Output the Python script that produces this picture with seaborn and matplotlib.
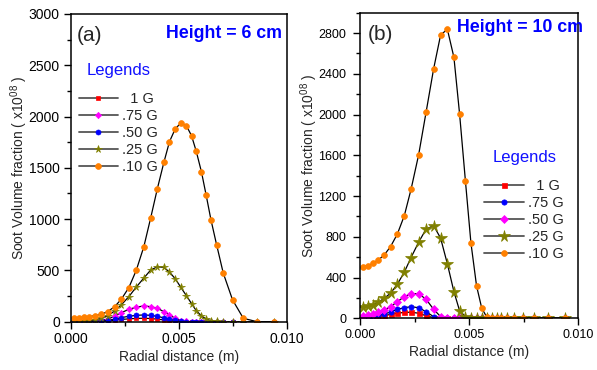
import matplotlib
matplotlib.use("Agg")
import matplotlib.pyplot as plt
from matplotlib.ticker import MultipleLocator, FormatStrFormatter
import seaborn as sns

# Radial grid of the flame simulation (m)
radial = [0.00012, 0.00035, 0.00060, 0.00083, 0.00110, 0.00139, 0.00170, 0.00202,
          0.00233, 0.00268, 0.00302, 0.00337, 0.00369, 0.00400, 0.00430, 0.00456,
          0.00483, 0.00508, 0.00534, 0.00558, 0.00580, 0.00604, 0.00626, 0.00648,
          0.00674, 0.00705, 0.00748, 0.00798, 0.00862, 0.00938]

# Soot volume fraction (x1e-8) at height = 6 cm
h6_labels = ["  1 G", ".75 G", ".50 G", ".25 G", ".10 G"]
h6_1g = [0, 0, 0, 1, 1, 3, 7, 14, 22, 28, 32, 34, 31, 25, 17, 10, 4, 1, 0, 0,
         0, 0, 0, 0, 0, 0, 0, 0, 0, 0]
h6_075g = [3, 3, 3, 4, 6, 12, 25, 55, 88, 121, 141, 154, 147, 131, 98, 66, 33, 10, 3, 1,
           0, 0, 0, 0, 0, 0, 0, 0, 0, 0]
h6_050g = [1, 1, 1, 2, 3, 6, 12, 25, 40, 53, 62, 66, 62, 52, 38, 24, 12, 4, 1, 0,
           0, 0, 0, 0, 0, 0, 0, 0, 0, 0]
h6_025g = [10, 10, 10, 12, 17, 33, 56, 105, 164, 245, 337, 425, 504, 536, 530, 484,
           418, 337, 255, 177, 108, 56, 26, 10, 3, 0, 0, 0, 0, 0]
h6_010g = [39, 39, 42, 49, 59, 72, 98, 147, 219, 333, 500, 729, 1012, 1298, 1553, 1755,
           1882, 1935, 1912, 1814, 1661, 1461, 1232, 994, 752, 474, 213, 33, 0, 0]

# Soot volume fraction (x1e-8) at height = 10 cm
h10_labels = ["  1 G", ".75 G", ".50 G", ".25 G", ".10 G"]
h10_1g = [5, 8, 12, 18, 27, 38, 50, 58, 60, 50, 25, 6, 0, 0, 0, 0, 0, 0, 0, 0,
          0, 0, 0, 0, 0, 0, 0, 0, 0, 0]
h10_075g = [10, 13, 20, 29, 42, 62, 88, 104, 114, 104, 65, 16, 2, 0, 0, 0, 0, 0, 0, 0,
            0, 0, 0, 0, 0, 0, 0, 0, 0, 0]
h10_050g = [26, 32, 42, 59, 82, 114, 163, 212, 242, 242, 187, 88, 16, 1, 0, 0, 0, 0, 0, 0,
            0, 0, 0, 0, 0, 0, 0, 0, 0, 0]
h10_025g = [114, 121, 134, 157, 197, 246, 334, 452, 596, 747, 875, 910, 786, 534, 262,
            75, 16, 3, 0, 0, 0, 0, 0, 0, 0, 0, 0, 0, 0, 0]
h10_010g = [507, 517, 541, 573, 622, 704, 826, 1006, 1265, 1605, 2021, 2451, 2782, 2837,
            2562, 2008, 1345, 743, 318, 98, 16, 0, 0, 0, 0, 0, 0, 0, 0, 0]

sns.set_style("ticks")
plt.rcParams["font.family"] = ["Liberation Sans", "DejaVu Sans"]
plt.rcParams["mathtext.fontset"] = "custom"
plt.rcParams["mathtext.rm"] = "Liberation Sans"
plt.rcParams["mathtext.it"] = "Liberation Sans:italic"
plt.rcParams["mathtext.bf"] = "Liberation Sans:bold"

RED, MAG, BLUE, OLIVE, ORANGE = "#ff0000", "#ff00ff", "#0000ff", "#808000", "#ff8000"

fig = plt.figure(figsize=(5.97, 3.70), dpi=100)
ax_a = fig.add_axes([0.1189, 0.1305, 0.3618, 0.8317])
ax_b = fig.add_axes([0.6035, 0.1397, 0.3647, 0.8260])

styles_a = [(RED, "s", 3.4), (MAG, "D", 3.2), (BLUE, "o", 3.6), (OLIVE, "*", 5.5), (ORANGE, "o", 4.2)]
styles_b = [(RED, "s", 3.6), (BLUE, "o", 3.8), (MAG, "D", 3.6), (OLIVE, "*", 8.5), (ORANGE, "o", 4.2)]


def draw_panel(ax, series, labels, styles, ylabelpad, ticksize):
    for ys, lab, (c, m, ms) in zip(series, labels, styles):
        sns.lineplot(x=radial, y=ys, ax=ax, color="black", lw=0.9, marker=m,
                     markersize=ms, markerfacecolor=c, markeredgecolor=c,
                     markeredgewidth=0.5, label=lab)
    ax.set_xlim(0, 0.010)
    ax.set_ylim(0, 3000)
    ax.xaxis.set_major_locator(MultipleLocator(0.005))
    ax.xaxis.set_minor_locator(MultipleLocator(0.0025))
    ax.xaxis.set_major_formatter(FormatStrFormatter("%.3f"))
    for s in ax.spines.values():
        s.set_visible(True)
        s.set_linewidth(1.1)
        s.set_color("black")
    ax.tick_params(which="both", direction="out", colors="black", labelsize=ticksize, width=1)
    ax.tick_params(which="major", length=5)
    ax.tick_params(which="minor", length=3)
    ax.tick_params(axis="x", pad=2.5)
    ax.set_xlabel("Radial distance (m)", fontsize=10, labelpad=3)
    ax.set_ylabel("Soot Volume fraction ( x10$^{08}$ )", fontsize=10, labelpad=ylabelpad)


draw_panel(ax_a, [h6_1g, h6_075g, h6_050g, h6_025g, h6_010g], h6_labels, styles_a, -1, 10)
ax_a.yaxis.set_major_locator(MultipleLocator(500))
ax_a.yaxis.set_minor_locator(MultipleLocator(250))
ax_a.tick_params(axis="y", pad=3)

draw_panel(ax_b, [h10_1g, h10_075g, h10_050g, h10_025g, h10_010g], h10_labels, styles_b, -1, 9)
ax_b.yaxis.set_major_locator(MultipleLocator(400))
ax_b.yaxis.set_minor_locator(MultipleLocator(200))
ax_b.set_yticks(range(0, 3000, 400))
ax_b.tick_params(axis="y", pad=5)


def style_legend(ax, anchor):
    leg = ax.legend(loc="upper left", bbox_to_anchor=anchor, frameon=False,
                    title="Legends", fontsize=10.5, handlelength=2.7,
                    handletextpad=0.3, labelspacing=0.2, borderaxespad=0,
                    borderpad=0)
    leg.get_title().set_color("#1010ff")
    leg.get_title().set_fontsize(12)
    leg._legend_box.sep = 10
    for ln in leg.get_lines():
        ln.set_color("#555555")
        ln.set_linewidth(1.3)
    return leg


style_legend(ax_a, (0.035, 0.84))
style_legend(ax_b, (0.57, 0.55))

ax_a.text(0.025, 0.93, "(a)", transform=ax_a.transAxes, fontsize=15, va="center", ha="left")
ax_b.text(0.035, 0.93, "(b)", transform=ax_b.transAxes, fontsize=15, va="center", ha="left")
ax_a.text(0.975, 0.935, "Height = 6 cm", transform=ax_a.transAxes, fontsize=12.8,
          fontweight="bold", color="#0000ff", ha="right", va="center")
ax_b.text(1.025, 0.95, "Height = 10 cm", transform=ax_b.transAxes, fontsize=12.8,
          fontweight="bold", color="#0000ff", ha="right", va="center")

fig.savefig("out.png", dpi=100)
